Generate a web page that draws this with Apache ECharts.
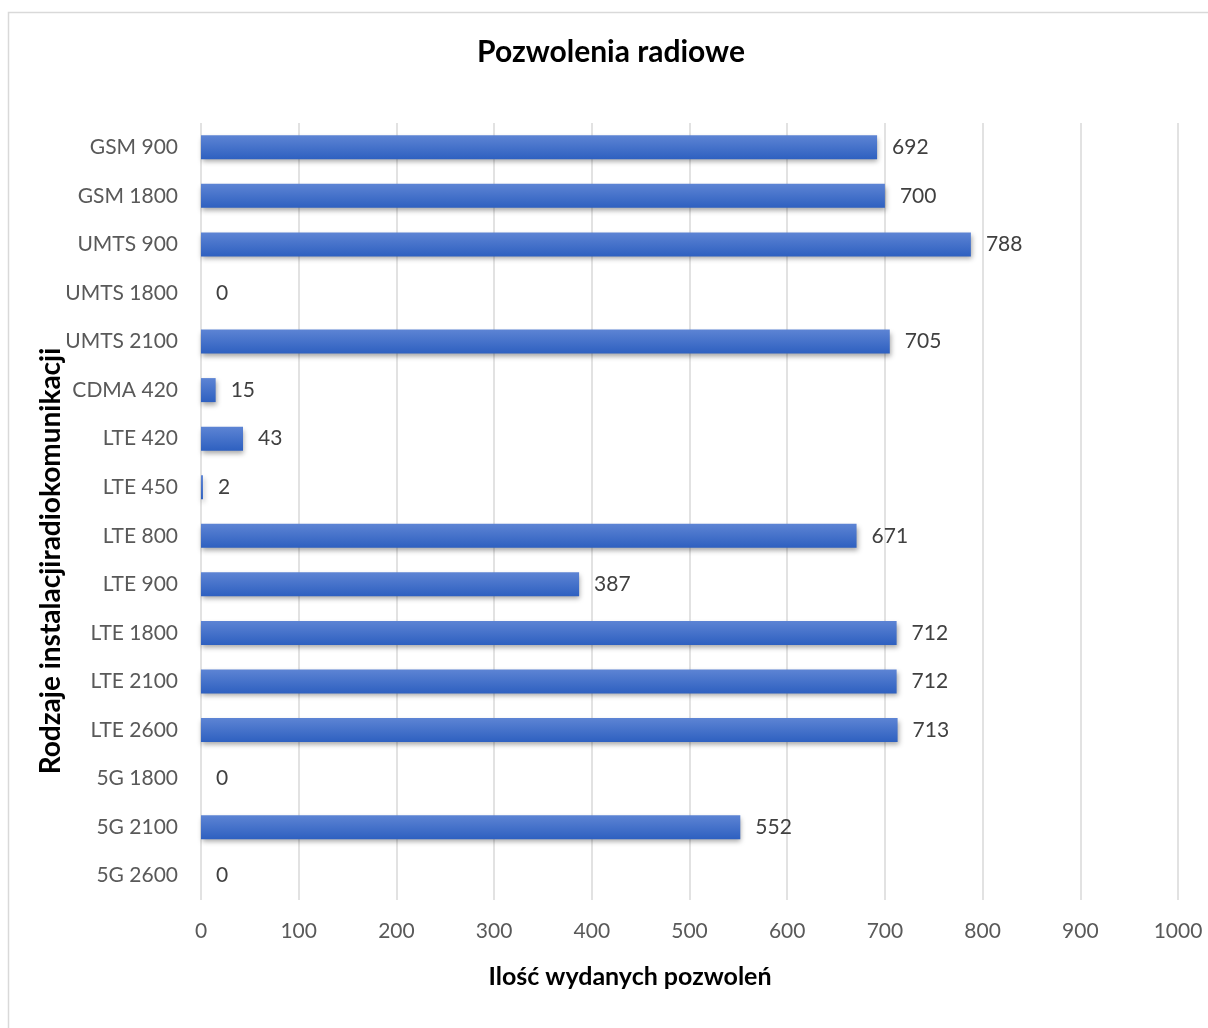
<!DOCTYPE html>
<html><head><meta charset="utf-8">
<script src="https://cdn.jsdelivr.net/npm/echarts@6/dist/echarts.min.js"></script>
<style>html,body{margin:0;padding:0;background:#fff}#c{width:1208px;height:1028px}</style>
</head><body><div id="c"></div>
<script>
const categories = ['GSM 900','GSM 1800','UMTS 900','UMTS 1800','UMTS 2100','CDMA 420','LTE 420','LTE 450','LTE 800','LTE 900','LTE 1800','LTE 2100','LTE 2600','5G 1800','5G 2100','5G 2600'];
const values = [692,700,788,0,705,15,43,2,671,387,712,712,713,0,552,0];
const xTicks = [0,100,200,300,400,500,600,700,800,900,1000];
const titleText = 'Pozwolenia radiowe';
const xName = 'Ilość wydanych pozwoleń';
const yName = 'Rodzaje instalacjiradiokomunikacji';

const FONT = 'Lato, "Open Sans", sans-serif';
const chart = echarts.init(document.getElementById('c'), null, {renderer:'canvas'});
chart.setOption({
  backgroundColor:'#fff',
  animation:false,
  graphic:[
    {type:'rect',shape:{x:8.5,y:12.5,width:1230,height:1040},style:{fill:'none',stroke:'#d9d9d9',lineWidth:1.5},silent:true},
    {type:'text',x:630,y:977,style:{text:xName,fontFamily:FONT,fontSize:25,fontWeight:'bold',fill:'#000',textAlign:'center',textVerticalAlign:'middle'},silent:true},
    {type:'text',x:51,y:561,rotation:Math.PI/2,style:{text:yName,fontFamily:FONT,fontSize:28,fontWeight:'bold',fill:'#000',textAlign:'center',textVerticalAlign:'middle'},silent:true}
  ],
  title:{text:titleText,left:606,top:32,textAlign:'center',textStyle:{fontFamily:FONT,fontSize:30,fontWeight:'bold',color:'#000'}},
  grid:{left:201,right:30,top:123,bottom:128},
  xAxis:{type:'value',min:0,max:1000,interval:100,
    axisLine:{show:false},axisTick:{show:false},
    axisLabel:{fontFamily:FONT,fontSize:21,color:'#595959',margin:21,
      formatter:v=>xTicks.includes(v)?String(v):''},
    splitLine:{show:true,lineStyle:{color:'#d9d9d9',width:1.5}}},
  yAxis:{type:'category',data:categories,inverse:true,
    axisLine:{show:false},axisTick:{show:false},
    axisLabel:{fontFamily:FONT,fontSize:21,color:'#595959',margin:23}},
  series:[{type:'bar',data:values,barWidth:24,
    itemStyle:{color:new echarts.graphic.LinearGradient(0,0,0,1,[{offset:0,color:'#5d84d4'},{offset:1,color:'#2e60c0'}]),
      shadowColor:'rgba(0,0,0,0.35)',shadowBlur:5,shadowOffsetY:3,shadowOffsetX:1},
    label:{show:true,position:'right',distance:15,fontFamily:FONT,fontSize:21,color:'#404040'}}]
});
</script></body></html>
